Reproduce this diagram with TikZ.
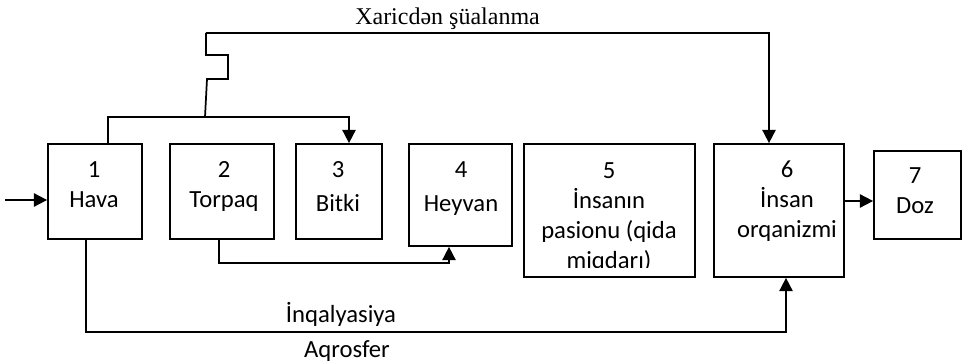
\documentclass[tikz,border=0pt]{standalone}
\usepackage{fontspec}
\setmainfont{Carlito}
\newfontfamily\serifyazi{Liberation Serif}
\usetikzlibrary{arrows.meta}

\tikzset{
  blok/.style 2 args={draw, line width=1.3pt, minimum width=#1*0.75pt, minimum height=#2*0.75pt, inner sep=0pt},
  yazi/.style={align=center, anchor=base, inner sep=0pt, font=\fontsize{18.5}{22.5}\selectfont},
  xett/.style={line width=1.3pt},
  ox/.style={xett, -{Triangle[length=10pt,width=10pt]}},
}

\begin{document}
\begin{tikzpicture}[x=0.75pt,y=-0.75pt]
\useasboundingbox (0,0) rectangle (966,363);

% bloklar
\node[blok={94}{95}]   (hava)   at (95,191.5)  {};
\node[blok={104}{95}]  (torpaq) at (222,191.5) {};
\node[blok={86}{95}]   (bitki)  at (339,191.5) {};
\node[blok={103}{102}] (heyvan) at (460.5,195) {};
\node[blok={171}{133}] (pasion) at (609.5,210.5) {};
\node[blok={130}{133}] (insan)  at (779,210.5) {};
\node[blok={87}{88}]   (doz)    at (917.5,195) {};

% bloklarin yazilari (base = son setir)
\node[yazi] (hava-y)   at (94,208)  {1\\Hava};
\node[yazi] (torpaq-y) at (224,208) {2\\Torpaq};
\node[yazi] (bitki-y)  at (338,212) {3\\[3pt]Bitki};
\node[yazi] (heyvan-y) at (461,212) {4\\[3pt]Heyvan};
\begin{scope}
  \clip (pasion.north west) rectangle (695,267);
  \node[yazi] (pasion-y) at (609,268) {5\\İnsanın\\pasionu (qida\\miqdarı)};
\end{scope}
\node[yazi] (insan-y)  at (787,238) {6\\İnsan\\orqanizmi};
\node[yazi] (doz-y)    at (915,214) {7\\Doz};

% xetlerin yazilari
\node[anchor=base west, inner sep=0pt, font=\serifyazi\fontsize{18}{20}\selectfont] (xaric) at (355,25) {Xaricdən şüalanma};
\node[yazi] (inqal) at (341,322) {İnqalyasiya};
\node[yazi] (aqro)  at (347,357) {Aqrosfer};

% xetler
\coordinate (giris)  at (5,200);
\coordinate (yuxari) at (206,33);
\coordinate (paylan) at (205,117);

\draw[ox] (giris) -- (giris -| hava.west);
\draw[ox] (yuxari) -| (insan.north -| 769,0);
\draw[xett] (yuxari) -- ++(0,22) -- ++(22,0) -- ++(0,24) -- ++(-21,0) -- (paylan);
\draw[xett] (paylan) -| (hava.north -| 108,0);
\draw[ox] (paylan) -| (bitki.north -| 349,0);
\draw[ox] (torpaq.south -| 219,0) -- ++(0,23) -| (heyvan.south -| 449,0);
\draw[ox] (hava.south -| 86,0) -- ++(0,92) -| (insan.south -| 786,0);
\draw[ox] (insan.east |- 0,201) -- (doz.west |- 0,201);

\end{tikzpicture}
\end{document}
